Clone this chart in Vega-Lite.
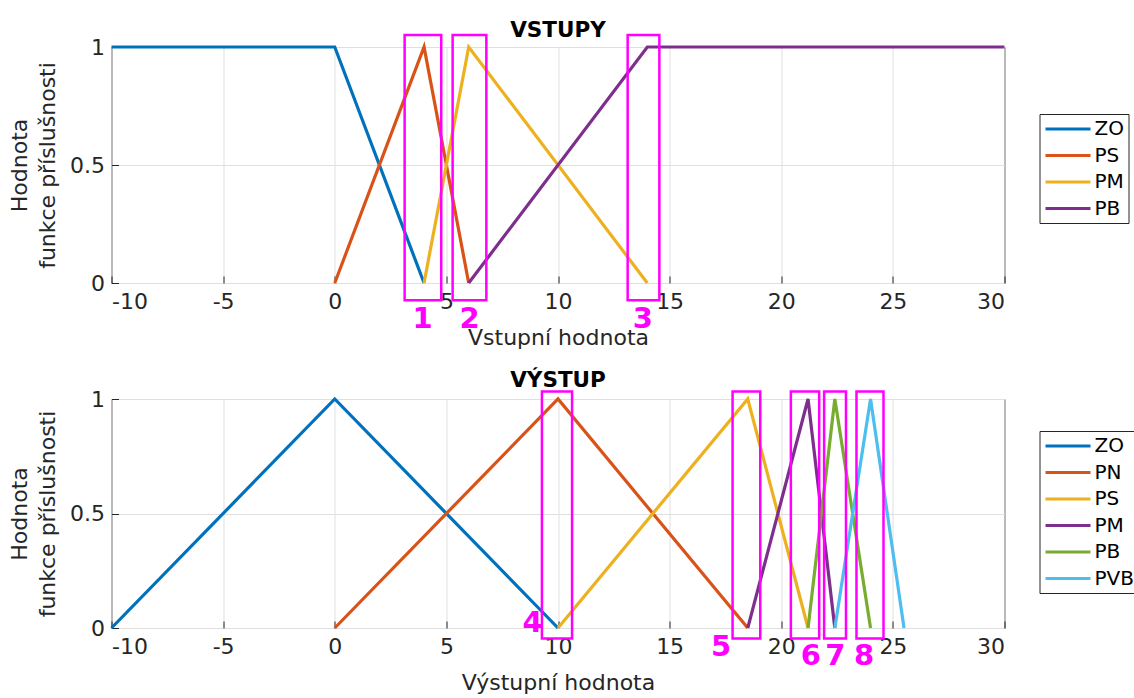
{
  "$schema": "https://vega.github.io/schema/vega-lite/v6.json",
  "background": "white",
  "padding": {"left": 7.5, "top": 19, "right": 0, "bottom": 0},
  "config": {
    "font": "DejaVu Sans",
    "view": {"stroke": "#262626", "strokeWidth": 1},
    "axis": {
      "domain": false,
      "grid": true,
      "gridColor": "#dfdfdf",
      "gridWidth": 1,
      "ticks": true,
      "tickSize": -7,
      "tickColor": "#262626",
      "labelFont": "DejaVu Sans",
      "labelFontSize": 22,
      "labelColor": "#262626",
      "titleFont": "DejaVu Sans",
      "titleFontSize": 22,
      "titleFontWeight": "normal",
      "titleColor": "#262626"
    },
    "legend": {
      "title": null,
      "orient": "none",
      "strokeColor": "#262626",
      "fillColor": "white",
      "padding": 4,
      "symbolType": "M-2.5,0H2.5",
      "symbolSize": 324,
      "symbolStrokeWidth": 3.2,
      "symbolOffset": 13.5,
      "labelFont": "DejaVu Sans",
      "labelFontSize": 20,
      "labelColor": "black",
      "labelOffset": 15.5,
      "rowPadding": 5.5
    },
    "title": {"font": "DejaVu Sans", "fontSize": 21.5, "fontWeight": "bold", "color": "black", "anchor": "middle"}
  },
  "datasets": {
    "inLines": [
      {"set": "ZO", "x": -10, "y": 1}, {"set": "ZO", "x": 0, "y": 1}, {"set": "ZO", "x": 4, "y": 0},
      {"set": "PS", "x": 0, "y": 0}, {"set": "PS", "x": 4, "y": 1}, {"set": "PS", "x": 6, "y": 0},
      {"set": "PM", "x": 4, "y": 0}, {"set": "PM", "x": 6, "y": 1}, {"set": "PM", "x": 14, "y": 0},
      {"set": "PB", "x": 6, "y": 0}, {"set": "PB", "x": 14, "y": 1}, {"set": "PB", "x": 30, "y": 1}
    ],
    "inBoxes": [
      {"x": 3.13, "x2": 4.77, "y": -0.073, "y2": 1.051},
      {"x": 5.28, "x2": 6.79, "y": -0.073, "y2": 1.051},
      {"x": 13.12, "x2": 14.54, "y": -0.073, "y2": 1.051}
    ],
    "inLabels": [
      {"x": 3.94, "y": -0.154, "label": "1"},
      {"x": 6.04, "y": -0.154, "label": "2"},
      {"x": 13.8, "y": -0.154, "label": "3"}
    ],
    "outLines": [
      {"set": "ZO", "x": -10, "y": 0}, {"set": "ZO", "x": 0, "y": 1}, {"set": "ZO", "x": 10, "y": 0},
      {"set": "PN", "x": 0, "y": 0}, {"set": "PN", "x": 10, "y": 1}, {"set": "PN", "x": 18.5, "y": 0},
      {"set": "PS", "x": 10, "y": 0}, {"set": "PS", "x": 18.5, "y": 1}, {"set": "PS", "x": 21.2, "y": 0},
      {"set": "PM", "x": 18.5, "y": 0}, {"set": "PM", "x": 21.2, "y": 1}, {"set": "PM", "x": 22.4, "y": 0},
      {"set": "PB", "x": 21.2, "y": 0}, {"set": "PB", "x": 22.4, "y": 1}, {"set": "PB", "x": 24, "y": 0},
      {"set": "PVB", "x": 22.4, "y": 0}, {"set": "PVB", "x": 24, "y": 1}, {"set": "PVB", "x": 25.5, "y": 0}
    ],
    "outBoxes": [
      {"x": 9.28, "x2": 10.63, "y": -0.046, "y2": 1.033},
      {"x": 17.82, "x2": 19.06, "y": -0.046, "y2": 1.033},
      {"x": 20.43, "x2": 21.7, "y": -0.046, "y2": 1.033},
      {"x": 21.92, "x2": 22.9, "y": -0.046, "y2": 1.033},
      {"x": 23.37, "x2": 24.58, "y": -0.046, "y2": 1.033}
    ],
    "outLabels": [
      {"x": 8.86, "y": 0.024, "label": "4"},
      {"x": 17.3, "y": -0.085, "label": "5"},
      {"x": 21.33, "y": -0.121, "label": "6"},
      {"x": 22.42, "y": -0.121, "label": "7"},
      {"x": 23.71, "y": -0.121, "label": "8"}
    ]
  },
  "vconcat": [
    {
      "width": 893,
      "height": 236,
      "title": {"text": "VSTUPY", "offset": -8},
      "encoding": {
        "x": {"field": "x", "type": "quantitative", "scale": {"domain": [-10, 30], "nice": false, "zero": false},
              "axis": {"title": "Vstupní hodnota", "values": [-10, -5, 0, 5, 10, 15, 20, 25, 30], "labelExpr": "'' + datum.value", "labelPadding": 15, "titlePadding": 15}},
        "y": {"field": "y", "type": "quantitative", "scale": {"domain": [0, 1], "nice": false},
              "axis": {"title": ["Hodnota", "funkce příslušnosti"], "titleLineHeight": 28, "values": [0, 0.5, 1], "labelExpr": "'' + datum.value", "labelPadding": 14, "titlePadding": 10}}
      },
      "layer": [
        {
          "data": {"name": "inLines"},
          "mark": {"type": "line", "strokeWidth": 3.2},
          "encoding": {
            "color": {"field": "set", "type": "nominal",
                      "scale": {"domain": ["ZO", "PS", "PM", "PB"], "range": ["#0072BD", "#D95319", "#EDB120", "#7E2F8E"]},
                      "legend": {"legendX": 928, "legendY": 67, "labelExpr": "datum.label + '\u00a0\u00a0'"}}
          }
        },
        {
          "data": {"name": "inBoxes"},
          "mark": {"type": "rect", "filled": false, "stroke": "#FF00FF", "strokeWidth": 2.5},
          "encoding": {"x2": {"field": "x2"}, "y2": {"field": "y2"}}
        },
        {
          "data": {"name": "inLabels"},
          "mark": {"type": "text", "fontSize": 29, "fontWeight": "bold", "color": "#FF00FF", "align": "center", "baseline": "middle"},
          "encoding": {"text": {"field": "label"}}
        }
      ]
    },
    {
      "width": 893,
      "height": 229,
      "title": {"text": "VÝSTUP", "offset": -3.4},
      "encoding": {
        "x": {"field": "x", "type": "quantitative", "scale": {"domain": [-10, 30], "nice": false, "zero": false},
              "axis": {"title": "Výstupní hodnota", "values": [-10, -5, 0, 5, 10, 15, 20, 25, 30], "labelExpr": "'' + datum.value", "labelPadding": 15, "titlePadding": 15}},
        "y": {"field": "y", "type": "quantitative", "scale": {"domain": [0, 1], "nice": false},
              "axis": {"title": ["Hodnota", "funkce příslušnosti"], "titleLineHeight": 28, "values": [0, 0.5, 1], "labelExpr": "'' + datum.value", "labelPadding": 14, "titlePadding": 10}}
      },
      "layer": [
        {
          "data": {"name": "outLines"},
          "mark": {"type": "line", "strokeWidth": 3.2},
          "encoding": {
            "color": {"field": "set", "type": "nominal",
                      "scale": {"domain": ["ZO", "PN", "PS", "PM", "PB", "PVB"], "range": ["#0072BD", "#D95319", "#EDB120", "#7E2F8E", "#77AC30", "#4DBEEE"]},
                      "legend": {"legendX": 928, "legendY": 32}}
          }
        },
        {
          "data": {"name": "outBoxes"},
          "mark": {"type": "rect", "filled": false, "stroke": "#FF00FF", "strokeWidth": 2.5},
          "encoding": {"x2": {"field": "x2"}, "y2": {"field": "y2"}}
        },
        {
          "data": {"name": "outLabels"},
          "mark": {"type": "text", "fontSize": 29, "fontWeight": "bold", "color": "#FF00FF", "align": "center", "baseline": "middle"},
          "encoding": {"text": {"field": "label"}}
        }
      ]
    }
  ],
  "spacing": 116,
  "bounds": "flush",
  "resolve": {"scale": {"color": "independent"}}
}
